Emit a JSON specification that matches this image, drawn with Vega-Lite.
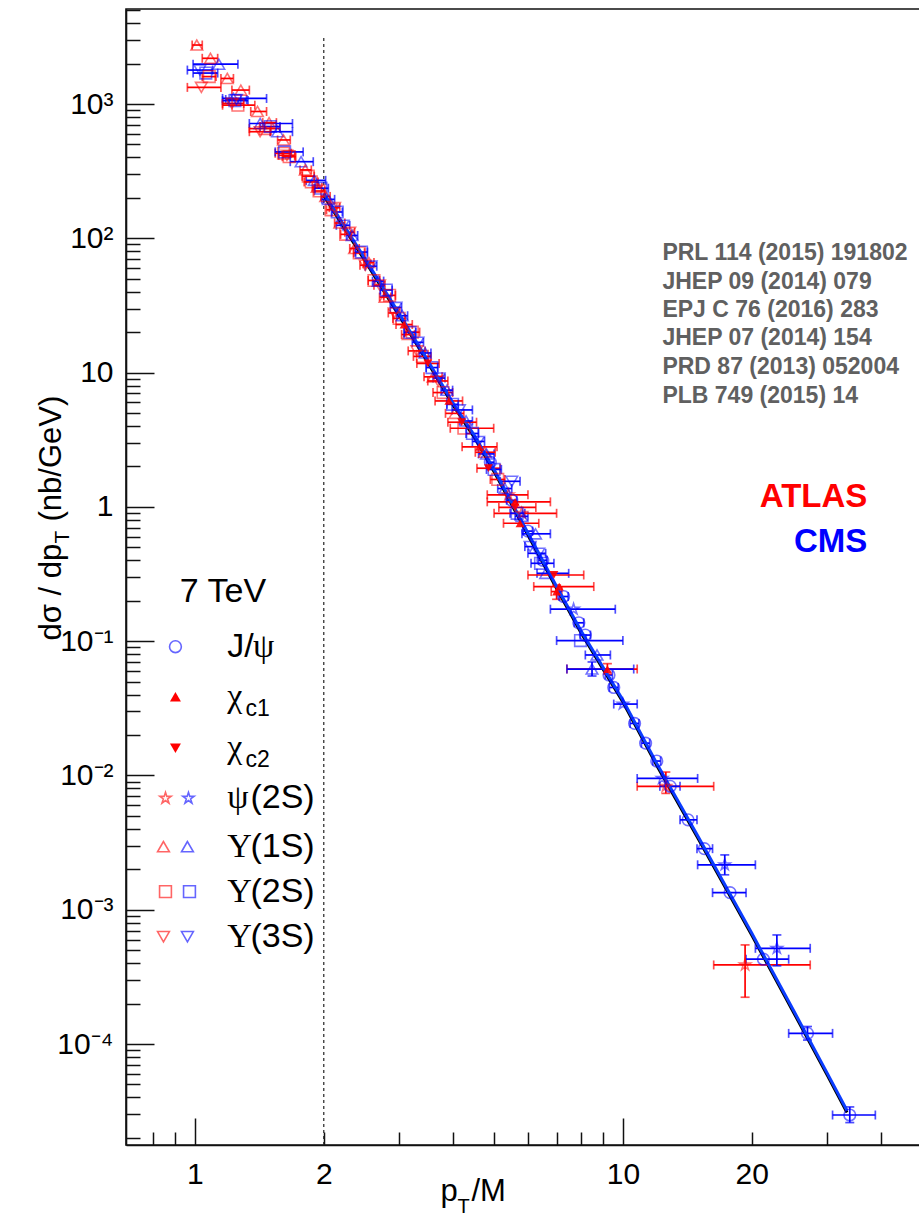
{
  "$schema": "https://vega.github.io/schema/vega-lite/v6.json",
  "width": 796,
  "height": 1136,
  "autosize": {"type": "none"},
  "padding": {"left": 126, "top": 9, "right": 0, "bottom": 85},
  "background": "white",
  "config": {
    "view": {"stroke": "#111111", "strokeWidth": 1.6},
    "axis": {
      "grid": false,
      "domainColor": "#111111",
      "domainWidth": 1.6,
      "tickColor": "#111111",
      "tickWidth": 1.5,
      "labelFont": "Liberation Sans",
      "labelFontSize": 30,
      "labelColor": "#000000",
      "labelOverlap": false,
      "labelFlush": false,
      "labelBound": false,
      "titleFont": "Liberation Sans",
      "titleFontSize": 31,
      "titleFontWeight": "normal",
      "titleColor": "#000000"
    }
  },
  "datasets": {
    "fit": [
      {"f": "CMS", "x": 2.0, "y": 216}, {"f": "CMS", "x": 2.5, "y": 70}, {"f": "CMS", "x": 3.0, "y": 27.5},
      {"f": "CMS", "x": 3.5, "y": 12.3}, {"f": "CMS", "x": 4.0, "y": 6.0}, {"f": "CMS", "x": 4.5, "y": 3.4},
      {"f": "CMS", "x": 5.0, "y": 1.9}, {"f": "CMS", "x": 6.0, "y": 0.64}, {"f": "CMS", "x": 7.0, "y": 0.255},
      {"f": "CMS", "x": 8.0, "y": 0.118}, {"f": "CMS", "x": 10.0, "y": 0.0365}, {"f": "CMS", "x": 12.0, "y": 0.0123},
      {"f": "CMS", "x": 15.0, "y": 0.0035}, {"f": "CMS", "x": 20.0, "y": 0.00067}, {"f": "CMS", "x": 25.0, "y": 0.00018},
      {"f": "CMS", "x": 30.0, "y": 0.000061}, {"f": "CMS", "x": 33.4, "y": 0.000032},
      {"f": "ATLAS", "x": 2.0, "y": 208}, {"f": "ATLAS", "x": 2.5, "y": 67.5}, {"f": "ATLAS", "x": 3.0, "y": 26.5},
      {"f": "ATLAS", "x": 3.5, "y": 11.9}, {"f": "ATLAS", "x": 4.0, "y": 5.8}, {"f": "ATLAS", "x": 4.5, "y": 3.28},
      {"f": "ATLAS", "x": 5.0, "y": 1.83}, {"f": "ATLAS", "x": 6.0, "y": 0.618}, {"f": "ATLAS", "x": 7.0, "y": 0.246},
      {"f": "ATLAS", "x": 8.0, "y": 0.114}, {"f": "ATLAS", "x": 10.0, "y": 0.0352}, {"f": "ATLAS", "x": 12.0, "y": 0.01187},
      {"f": "ATLAS", "x": 15.0, "y": 0.00338}, {"f": "ATLAS", "x": 20.0, "y": 0.000647}, {"f": "ATLAS", "x": 25.0, "y": 0.000174},
      {"f": "ATLAS", "x": 30.0, "y": 0.0000589}, {"f": "ATLAS", "x": 33.4, "y": 0.0000309}
    ],
    "pts": [
      {"e": "ATLAS", "s": "Υ(1S)", "x": 1.01, "y": 2750, "xl": 0.985, "xh": 1.04},
      {"e": "ATLAS", "s": "Υ(1S)", "x": 1.087, "y": 2190, "xl": 1.04, "xh": 1.13},
      {"e": "CMS", "s": "Υ(1S)", "x": 1.137, "y": 1980, "xl": 0.99, "xh": 1.26},
      {"e": "CMS", "s": "Υ(3S)", "x": 1.027, "y": 1790, "xl": 0.96, "xh": 1.10},
      {"e": "CMS", "s": "Υ(2S)", "x": 1.06, "y": 1700, "xl": 0.99, "xh": 1.13},
      {"e": "ATLAS", "s": "Υ(2S)", "x": 1.08, "y": 1600, "xl": 1.04, "xh": 1.12},
      {"e": "ATLAS", "s": "Υ(1S)", "x": 1.19, "y": 1550, "xl": 1.15, "xh": 1.23},
      {"e": "ATLAS", "s": "Υ(3S)", "x": 1.035, "y": 1330, "xl": 0.96, "xh": 1.15},
      {"e": "CMS", "s": "Υ(1S)", "x": 1.23, "y": 1100, "xl": 1.16, "xh": 1.47},
      {"e": "ATLAS", "s": "Υ(1S)", "x": 1.28, "y": 1270, "xl": 1.22, "xh": 1.34},
      {"e": "ATLAS", "s": "Υ(2S)", "x": 1.26, "y": 980, "xl": 1.16, "xh": 1.38},
      {"e": "CMS", "s": "Υ(2S)", "x": 1.24, "y": 1060, "xl": 1.16, "xh": 1.33},
      {"e": "ATLAS", "s": "Υ(3S)", "x": 1.22, "y": 1010, "xl": 1.16, "xh": 1.30},
      {"e": "CMS", "s": "Υ(3S)", "x": 1.25, "y": 1080, "xl": 1.18, "xh": 1.32},
      {"e": "ATLAS", "s": "Υ(1S)", "x": 1.40, "y": 880, "xl": 1.35, "xh": 1.47},
      {"e": "ATLAS", "s": "Υ(2S)", "x": 1.46, "y": 656, "xl": 1.34, "xh": 1.58},
      {"e": "CMS", "s": "Υ(1S)", "x": 1.42, "y": 716, "xl": 1.34, "xh": 1.69},
      {"e": "ATLAS", "s": "Υ(1S)", "x": 1.49, "y": 727, "xl": 1.44, "xh": 1.55},
      {"e": "CMS", "s": "Υ(1S)", "x": 1.56, "y": 622, "xl": 1.50, "xh": 1.69},
      {"e": "ATLAS", "s": "Υ(3S)", "x": 1.42, "y": 622, "xl": 1.34, "xh": 1.50},
      {"e": "ATLAS", "s": "Υ(1S)", "x": 1.61, "y": 540, "xl": 1.56, "xh": 1.67},
      {"e": "CMS", "s": "Υ(2S)", "x": 1.50, "y": 680, "xl": 1.42, "xh": 1.58},
      {"e": "ATLAS", "s": "Υ(2S)", "x": 1.61, "y": 430, "xl": 1.54, "xh": 1.68},
      {"e": "ATLAS", "s": "Υ(2S)", "x": 1.66, "y": 405, "xl": 1.60, "xh": 1.72},
      {"e": "CMS", "s": "Υ(1S)", "x": 1.77, "y": 372, "xl": 1.67, "xh": 1.89},
      {"e": "CMS", "s": "Υ(2S)", "x": 1.62, "y": 440, "xl": 1.54, "xh": 1.79},
      {"e": "ATLAS", "s": "Υ(1S)", "x": 1.81, "y": 323, "xl": 1.76, "xh": 1.87},
      {"e": "ATLAS", "s": "Υ(3S)", "x": 1.64, "y": 415, "xl": 1.57, "xh": 1.71},
      {"e": "ATLAS", "s": "Υ(2S)", "x": 1.87, "y": 263, "xl": 1.80, "xh": 1.94},
      {"e": "ATLAS", "s": "Υ(2S)", "x": 1.84, "y": 290, "xl": 1.78, "xh": 1.90},
      {"e": "CMS", "s": "Υ(1S)", "x": 1.90, "y": 270, "xl": 1.82, "xh": 2.02},
      {"e": "ATLAS", "s": "Υ(1S)", "x": 1.93, "y": 240, "xl": 1.88, "xh": 1.98},
      {"e": "ATLAS", "s": "Υ(2S)", "x": 1.95, "y": 225, "xl": 1.90, "xh": 2.01},
      {"e": "CMS", "s": "Υ(2S)", "x": 1.97, "y": 236, "xl": 1.90, "xh": 2.05},

      {"e": "ATLAS", "s": "Υ(1S)", "x": 2.02, "y": 205, "xl": 1.97, "xh": 2.07},
      {"e": "ATLAS", "s": "Υ(2S)", "x": 2.08, "y": 163, "xl": 2.03, "xh": 2.13},
      {"e": "ATLAS", "s": "Υ(3S)", "x": 2.12, "y": 169, "xl": 2.06, "xh": 2.18},
      {"e": "ATLAS", "s": "Υ(1S)", "x": 2.18, "y": 130, "xl": 2.12, "xh": 2.24},
      {"e": "ATLAS", "s": "Υ(2S)", "x": 2.25, "y": 107, "xl": 2.19, "xh": 2.31},
      {"e": "ATLAS", "s": "Υ(3S)", "x": 2.30, "y": 111, "xl": 2.24, "xh": 2.36},
      {"e": "ATLAS", "s": "Υ(1S)", "x": 2.36, "y": 84, "xl": 2.30, "xh": 2.42},
      {"e": "ATLAS", "s": "Υ(2S)", "x": 2.42, "y": 78, "xl": 2.35, "xh": 2.49},
      {"e": "ATLAS", "s": "Υ(3S)", "x": 2.50, "y": 63, "xl": 2.43, "xh": 2.57},
      {"e": "ATLAS", "s": "Υ(1S)", "x": 2.55, "y": 66, "xl": 2.48, "xh": 2.62},
      {"e": "ATLAS", "s": "Υ(2S)", "x": 2.62, "y": 48.5, "xl": 2.54, "xh": 2.70},
      {"e": "ATLAS", "s": "Υ(3S)", "x": 2.70, "y": 44.8, "xl": 2.62, "xh": 2.78},
      {"e": "ATLAS", "s": "Υ(1S)", "x": 2.78, "y": 36.5, "xl": 2.70, "xh": 2.87},
      {"e": "ATLAS", "s": "Υ(2S)", "x": 2.85, "y": 37.6, "xl": 2.76, "xh": 2.94},
      {"e": "ATLAS", "s": "Υ(3S)", "x": 2.92, "y": 27.8, "xl": 2.83, "xh": 3.01},
      {"e": "ATLAS", "s": "Υ(2S)", "x": 3.00, "y": 25.3, "xl": 2.90, "xh": 3.10},
      {"e": "ATLAS", "s": "χc1", "x": 3.08, "y": 22.8, "xl": 2.95, "xh": 3.22},
      {"e": "ATLAS", "s": "Υ(1S)", "x": 3.15, "y": 19.2, "xl": 3.04, "xh": 3.26},
      {"e": "ATLAS", "s": "Υ(2S)", "x": 3.22, "y": 20.0, "xl": 3.10, "xh": 3.35},
      {"e": "ATLAS", "s": "Υ(3S)", "x": 3.30, "y": 14.5, "xl": 3.15, "xh": 3.45},
      {"e": "ATLAS", "s": "Υ(2S)", "x": 3.40, "y": 13.2, "xl": 3.24, "xh": 3.56},
      {"e": "ATLAS", "s": "χc2", "x": 3.50, "y": 11.7, "xl": 3.30, "xh": 3.72},
      {"e": "ATLAS", "s": "Υ(1S)", "x": 3.60, "y": 9.3, "xl": 3.43, "xh": 3.78},
      {"e": "ATLAS", "s": "Υ(3S)", "x": 3.70, "y": 8.66, "xl": 3.50, "xh": 3.90},
      {"e": "ATLAS", "s": "Υ(2S)", "x": 3.80, "y": 7.1, "xl": 3.60, "xh": 4.00},
      {"e": "ATLAS", "s": "χc1", "x": 3.92, "y": 6.15, "xl": 3.64, "xh": 4.22},
      {"e": "ATLAS", "s": "Υ(1S)", "x": 4.05, "y": 4.97, "xl": 3.85, "xh": 4.25},
      {"e": "ATLAS", "s": "χc2", "x": 4.20, "y": 4.27, "xl": 3.90, "xh": 4.55},
      {"e": "ATLAS", "s": "Υ(2S)", "x": 4.25, "y": 3.85, "xl": 3.95, "xh": 4.99},
      {"e": "ATLAS", "s": "χc1", "x": 4.62, "y": 2.8, "xl": 4.21, "xh": 5.08},
      {"e": "ATLAS", "s": "Υ(1S)", "x": 4.75, "y": 2.55, "xl": 4.52, "xh": 5.03},
      {"e": "ATLAS", "s": "χc2", "x": 4.85, "y": 1.94, "xl": 4.56, "xh": 5.17},
      {"e": "ATLAS", "s": "Υ(2S)", "x": 5.10, "y": 1.6, "xl": 4.90, "xh": 5.30},
      {"e": "ATLAS", "s": "ψ(2S)", "x": 5.40, "y": 1.23, "xl": 4.82, "xh": 6.0},
      {"e": "ATLAS", "s": "χc1", "x": 5.60, "y": 1.09, "xl": 4.82, "xh": 6.77},
      {"e": "ATLAS", "s": "χc2", "x": 5.60, "y": 0.99, "xl": 5.13, "xh": 6.26},
      {"e": "ATLAS", "s": "ψ(2S)", "x": 5.80, "y": 0.896, "xl": 5.0, "xh": 7.0},
      {"e": "ATLAS", "s": "χc1", "x": 5.75, "y": 0.755, "xl": 5.26, "xh": 6.36},
      {"e": "ATLAS", "s": "χc2", "x": 6.90, "y": 0.311, "xl": 6.0, "xh": 8.1},
      {"e": "ATLAS", "s": "χc1", "x": 7.10, "y": 0.255, "xl": 6.19, "xh": 8.55},
      {"e": "ATLAS", "s": "χc1", "x": 7.0, "y": 0.234, "xl": 6.8, "xh": 7.2, "yl": 0.205, "yh": 0.262},
      {"e": "ATLAS", "s": "χc1", "x": 9.2, "y": 0.062, "xl": 7.4, "xh": 10.8, "yl": 0.057, "yh": 0.068},
      {"e": "ATLAS", "s": "ψ(2S)", "x": 12.6, "y": 0.0083, "xl": 10.8, "xh": 16.3, "yl": 0.00735, "yh": 0.0106},
      {"e": "ATLAS", "s": "ψ(2S)", "x": 19.3, "y": 0.000388, "xl": 16.3, "xh": 27.4, "yl": 0.000223, "yh": 0.000547},

      {"e": "CMS", "s": "Υ(1S)", "x": 2.05, "y": 195, "xl": 1.98, "xh": 2.12},
      {"e": "CMS", "s": "Υ(2S)", "x": 2.15, "y": 157, "xl": 2.09, "xh": 2.21},
      {"e": "CMS", "s": "Υ(3S)", "x": 2.22, "y": 125, "xl": 2.14, "xh": 2.30},
      {"e": "CMS", "s": "Υ(1S)", "x": 2.33, "y": 105, "xl": 2.26, "xh": 2.40},
      {"e": "CMS", "s": "Υ(2S)", "x": 2.45, "y": 79, "xl": 2.37, "xh": 2.53},
      {"e": "CMS", "s": "Υ(3S)", "x": 2.58, "y": 62, "xl": 2.50, "xh": 2.66},
      {"e": "CMS", "s": "Υ(1S)", "x": 2.68, "y": 48, "xl": 2.60, "xh": 2.76},
      {"e": "CMS", "s": "Υ(2S)", "x": 2.80, "y": 41.2, "xl": 2.71, "xh": 2.89},
      {"e": "CMS", "s": "Υ(3S)", "x": 2.95, "y": 30.6, "xl": 2.86, "xh": 3.04},
      {"e": "CMS", "s": "Υ(1S)", "x": 3.05, "y": 26.5, "xl": 2.96, "xh": 3.14},
      {"e": "CMS", "s": "Υ(2S)", "x": 3.18, "y": 19.9, "xl": 3.08, "xh": 3.28},
      {"e": "CMS", "s": "Υ(3S)", "x": 3.32, "y": 16.8, "xl": 3.22, "xh": 3.42},
      {"e": "CMS", "s": "Υ(1S)", "x": 3.45, "y": 14.0, "xl": 3.34, "xh": 3.56},
      {"e": "CMS", "s": "Υ(2S)", "x": 3.58, "y": 10.9, "xl": 3.47, "xh": 3.69},
      {"e": "CMS", "s": "Υ(3S)", "x": 3.72, "y": 9.1, "xl": 3.60, "xh": 3.84},
      {"e": "CMS", "s": "Υ(1S)", "x": 3.88, "y": 7.4, "xl": 3.76, "xh": 4.00},
      {"e": "CMS", "s": "Υ(2S)", "x": 4.00, "y": 5.8, "xl": 3.88, "xh": 4.12},
      {"e": "CMS", "s": "Υ(3S)", "x": 4.15, "y": 5.27, "xl": 3.99, "xh": 4.45},
      {"e": "CMS", "s": "Υ(1S)", "x": 4.30, "y": 4.36, "xl": 4.15, "xh": 4.45},
      {"e": "CMS", "s": "Υ(2S)", "x": 4.45, "y": 3.52, "xl": 4.30, "xh": 4.60},
      {"e": "CMS", "s": "Υ(3S)", "x": 4.60, "y": 3.07, "xl": 4.45, "xh": 4.75},
      {"e": "CMS", "s": "Υ(1S)", "x": 4.80, "y": 2.48, "xl": 4.60, "xh": 5.00},
      {"e": "CMS", "s": "J/ψ", "x": 4.90, "y": 2.15, "xl": 4.80, "xh": 5.00},
      {"e": "CMS", "s": "Υ(2S)", "x": 5.00, "y": 1.9, "xl": 4.80, "xh": 5.20},
      {"e": "CMS", "s": "Υ(1S)", "x": 5.30, "y": 1.37, "xl": 5.10, "xh": 5.50},
      {"e": "CMS", "s": "Υ(3S)", "x": 5.50, "y": 1.55, "xl": 5.17, "xh": 5.75},
      {"e": "CMS", "s": "J/ψ", "x": 5.50, "y": 1.12, "xl": 5.35, "xh": 5.65},
      {"e": "CMS", "s": "Υ(2S)", "x": 5.66, "y": 0.896, "xl": 5.45, "xh": 5.90},
      {"e": "CMS", "s": "Υ(1S)", "x": 5.81, "y": 0.85, "xl": 5.60, "xh": 6.00},
      {"e": "CMS", "s": "J/ψ", "x": 6.00, "y": 0.66, "xl": 5.85, "xh": 6.15},
      {"e": "CMS", "s": "Υ(1S)", "x": 6.25, "y": 0.63, "xl": 5.81, "xh": 6.77},
      {"e": "CMS", "s": "Υ(3S)", "x": 6.07, "y": 0.506, "xl": 5.90, "xh": 6.25},
      {"e": "CMS", "s": "Υ(3S)", "x": 6.36, "y": 0.451, "xl": 6.00, "xh": 6.60},
      {"e": "CMS", "s": "J/ψ", "x": 6.50, "y": 0.40, "xl": 6.35, "xh": 6.65},
      {"e": "CMS", "s": "Υ(2S)", "x": 6.42, "y": 0.38, "xl": 6.10, "xh": 6.90},
      {"e": "CMS", "s": "Υ(1S)", "x": 6.60, "y": 0.32, "xl": 6.30, "xh": 7.47},
      {"e": "CMS", "s": "J/ψ", "x": 7.27, "y": 0.215, "xl": 7.10, "xh": 7.45},
      {"e": "CMS", "s": "ψ(2S)", "x": 7.67, "y": 0.173, "xl": 6.77, "xh": 9.6},
      {"e": "CMS", "s": "J/ψ", "x": 7.89, "y": 0.137, "xl": 7.70, "xh": 8.10},
      {"e": "CMS", "s": "J/ψ", "x": 8.17, "y": 0.111, "xl": 7.95, "xh": 8.40},
      {"e": "CMS", "s": "Υ(2S)", "x": 7.96, "y": 0.101, "xl": 7.0, "xh": 10.0},
      {"e": "CMS", "s": "Υ(1S)", "x": 8.70, "y": 0.0789, "xl": 8.17, "xh": 9.35},
      {"e": "CMS", "s": "Υ(1S)", "x": 8.47, "y": 0.062, "xl": 7.4, "xh": 10.6, "yl": 0.055, "yh": 0.07},
      {"e": "CMS", "s": "J/ψ", "x": 9.28, "y": 0.056, "xl": 9.1, "xh": 9.45},
      {"e": "CMS", "s": "J/ψ", "x": 9.52, "y": 0.0452, "xl": 9.3, "xh": 9.75},
      {"e": "CMS", "s": "ψ(2S)", "x": 10.0, "y": 0.034, "xl": 9.52, "xh": 10.8},
      {"e": "CMS", "s": "J/ψ", "x": 10.65, "y": 0.0244, "xl": 10.4, "xh": 10.9},
      {"e": "CMS", "s": "J/ψ", "x": 11.3, "y": 0.0174, "xl": 11.05, "xh": 11.55},
      {"e": "CMS", "s": "J/ψ", "x": 12.0, "y": 0.0128, "xl": 11.75, "xh": 12.25},
      {"e": "CMS", "s": "ψ(2S)", "x": 12.35, "y": 0.0095, "xl": 10.8, "xh": 14.95},
      {"e": "CMS", "s": "J/ψ", "x": 12.9, "y": 0.0083, "xl": 12.2, "xh": 13.6},
      {"e": "CMS", "s": "J/ψ", "x": 14.2, "y": 0.00467, "xl": 13.6, "xh": 14.9},
      {"e": "CMS", "s": "J/ψ", "x": 15.5, "y": 0.00285, "xl": 14.9, "xh": 16.2},
      {"e": "CMS", "s": "ψ(2S)", "x": 17.3, "y": 0.00216, "xl": 14.95, "xh": 20.4, "yl": 0.00182, "yh": 0.00256},
      {"e": "CMS", "s": "J/ψ", "x": 17.8, "y": 0.00134, "xl": 16.2, "xh": 19.4},
      {"e": "CMS", "s": "J/ψ", "x": 21.3, "y": 0.000428, "xl": 19.4, "xh": 24.4},
      {"e": "CMS", "s": "ψ(2S)", "x": 22.9, "y": 0.000516, "xl": 20.4, "xh": 27.4, "yl": 0.000382, "yh": 0.000649},
      {"e": "CMS", "s": "J/ψ", "x": 27.0, "y": 0.00012, "xl": 24.4, "xh": 30.9, "yl": 0.000107, "yh": 0.000135},
      {"e": "CMS", "s": "J/ψ", "x": 33.9, "y": 0.0000296, "xl": 30.9, "xh": 38.9, "yl": 0.000026, "yh": 0.000034}
    ],
    "key": [
      {"e": "CMS", "s": "J/ψ", "x": 0.9003, "y": 0.09099},
      {"e": "ATLAS", "s": "χc1", "x": 0.9003, "y": 0.03861},
      {"e": "ATLAS", "s": "χc2", "x": 0.9003, "y": 0.01594},
      {"e": "ATLAS", "s": "ψ(2S)", "x": 0.8533, "y": 0.006763},
      {"e": "CMS", "s": "ψ(2S)", "x": 0.9656, "y": 0.006763},
      {"e": "ATLAS", "s": "Υ(1S)", "x": 0.8441, "y": 0.00295},
      {"e": "CMS", "s": "Υ(1S)", "x": 0.9603, "y": 0.00295},
      {"e": "ATLAS", "s": "Υ(2S)", "x": 0.8533, "y": 0.001364},
      {"e": "CMS", "s": "Υ(2S)", "x": 0.9709, "y": 0.001364},
      {"e": "ATLAS", "s": "Υ(3S)", "x": 0.8441, "y": 0.00063},
      {"e": "CMS", "s": "Υ(3S)", "x": 0.9603, "y": 0.00063}
    ]
  },
  "resolve": {"axis": {"x": "independent", "y": "independent"}},
  "layer": [
    {
      "data": {"values": [{"x": 2, "y": 3100, "y2": 0.0000177}]},
      "mark": {"type": "rule", "color": "#222222", "strokeWidth": 1.2, "strokeDash": [3, 3]},
      "encoding": {
        "x": {"field": "x", "type": "quantitative",
          "scale": {"type": "log", "domain": [0.69, 50], "nice": false},
          "axis": {"orient": "bottom", "values": [1, 10], "tickSize": -27, "labelPadding": 41,
            "labelExpr": "datum.value == 1 ? '1' : '10'",
            "title": "p", "titleX": 314, "titleY": 55, "titleAlign": "left", "titleBaseline": "alphabetic", "titleAngle": 0}},
        "y": {"field": "y", "type": "quantitative",
          "scale": {"type": "log", "domain": [0.0000177, 5100], "nice": false},
          "axis": {"orient": "left", "values": [0.0001, 0.001, 0.01, 0.1, 1, 10, 100, 1000], "tickSize": -28, "labelPadding": 41,
            "labelExpr": "['10⁻⁴','10⁻³','10⁻²','10⁻¹','1','10','10²','10³'][round(log(datum.value)/LN10)+4]",
            "title": "dσ / dp", "titleX": -66, "titleY": 631, "titleAlign": "left", "titleBaseline": "alphabetic", "titleAngle": 270}},
        "y2": {"field": "y2"}
      }
    },
    {
      "data": {"name": "fit"},
      "transform": [{"filter": "datum.f == 'ATLAS'"}],
      "mark": {"type": "line", "color": "#000000", "strokeWidth": 3},
      "encoding": {
        "x": {"field": "x", "type": "quantitative", "scale": {"type": "log", "domain": [0.69, 50], "nice": false}, "axis": null},
        "y": {"field": "y", "type": "quantitative", "scale": {"type": "log", "domain": [0.0000177, 5100], "nice": false}, "axis": null}
      }
    },
    {
      "data": {"name": "pts"},
      "mark": {"type": "errorbar", "orient": "horizontal", "ticks": true, "size": 9, "thickness": 1.7},
      "encoding": {
        "x": {"field": "xl", "type": "quantitative", "scale": {"type": "log", "domain": [0.69, 50], "nice": false}, "axis": null},
        "x2": {"field": "xh"},
        "y": {"field": "y", "type": "quantitative", "scale": {"type": "log", "domain": [0.0000177, 5100], "nice": false}, "axis": null},
        "color": {"field": "e", "type": "nominal", "scale": {"domain": ["ATLAS", "CMS"], "range": ["#ff0000", "#0000ff"]}, "legend": null}
      }
    },
    {
      "data": {"name": "pts"},
      "transform": [{"filter": "isValid(datum.yl)"}],
      "mark": {"type": "errorbar", "orient": "vertical", "ticks": true, "size": 9, "thickness": 1.7},
      "encoding": {
        "x": {"field": "x", "type": "quantitative", "scale": {"type": "log", "domain": [0.69, 50], "nice": false}, "axis": null},
        "y": {"field": "yl", "type": "quantitative", "scale": {"type": "log", "domain": [0.0000177, 5100], "nice": false}, "axis": null},
        "y2": {"field": "yh"},
        "color": {"field": "e", "type": "nominal", "scale": {"domain": ["ATLAS", "CMS"], "range": ["#ff0000", "#0000ff"]}, "legend": null}
      }
    },
    {
      "data": {"name": "fit"},
      "transform": [{"filter": "datum.f == 'CMS'"}],
      "mark": {"type": "line", "color": "#0b3dff", "strokeWidth": 3},
      "encoding": {
        "x": {"field": "x", "type": "quantitative", "scale": {"type": "log", "domain": [0.69, 50], "nice": false}, "axis": null},
        "y": {"field": "y", "type": "quantitative", "scale": {"type": "log", "domain": [0.0000177, 5100], "nice": false}, "axis": null}
      }
    },
    {
      "data": {"name": "pts"},
      "transform": [{"filter": "datum.s != 'χc1' && datum.s != 'χc2'"}],
      "mark": {"type": "point", "filled": false, "strokeWidth": 1.6, "opacity": 0.55, "size": 135},
      "encoding": {
        "x": {"field": "x", "type": "quantitative", "scale": {"type": "log", "domain": [0.69, 50], "nice": false}, "axis": null},
        "y": {"field": "y", "type": "quantitative", "scale": {"type": "log", "domain": [0.0000177, 5100], "nice": false}, "axis": null},
        "color": {"field": "e", "type": "nominal", "scale": {"domain": ["ATLAS", "CMS"], "range": ["#ff0000", "#0000ff"]}, "legend": null},
        "shape": {"field": "s", "type": "nominal",
          "scale": {"domain": ["J/ψ", "χc1", "χc2", "ψ(2S)", "Υ(1S)", "Υ(2S)", "Υ(3S)"],
            "range": ["circle", "triangle-up", "triangle-down", "M0,-1L0.2245,-0.309L0.951,-0.309L0.363,0.118L0.588,0.809L0,0.382L-0.588,0.809L-0.363,0.118L-0.951,-0.309L-0.2245,-0.309Z", "triangle-up", "square", "triangle-down"]},
          "legend": null}
      }
    },
    {
      "data": {"name": "pts"},
      "transform": [{"filter": "datum.s == 'χc1' || datum.s == 'χc2'"}],
      "mark": {"type": "point", "filled": true, "opacity": 0.9, "size": 80},
      "encoding": {
        "x": {"field": "x", "type": "quantitative", "scale": {"type": "log", "domain": [0.69, 50], "nice": false}, "axis": null},
        "y": {"field": "y", "type": "quantitative", "scale": {"type": "log", "domain": [0.0000177, 5100], "nice": false}, "axis": null},
        "color": {"field": "e", "type": "nominal", "scale": {"domain": ["ATLAS", "CMS"], "range": ["#ff0000", "#0000ff"]}, "legend": null},
        "shape": {"field": "s", "type": "nominal", "legend": null}
      }
    },
    {
      "data": {"name": "key"},
      "transform": [{"filter": "datum.s != 'χc1' && datum.s != 'χc2'"}],
      "mark": {"type": "point", "filled": false, "strokeWidth": 1.6, "opacity": 0.6, "size": 140},
      "encoding": {
        "x": {"field": "x", "type": "quantitative", "scale": {"type": "log", "domain": [0.69, 50], "nice": false},
          "axis": {"orient": "bottom", "values": [0.8, 0.9, 2, 3, 4, 5, 6, 7, 8, 9, 20, 30, 40], "tickSize": -13, "labelPadding": 27, "domain": false,
            "labelExpr": "datum.value == 2 ? '2' : datum.value == 20 ? '20' : ''",
            "title": "T", "titleFontSize": 20, "titleX": 331, "titleY": 67, "titleAlign": "left", "titleBaseline": "alphabetic", "titleAngle": 0}},
        "y": {"field": "y", "type": "quantitative", "scale": {"type": "log", "domain": [0.0000177, 5100], "nice": false},
          "axis": {"orient": "left", "domain": false, "labels": false, "tickSize": -14,
            "values": [0.00002, 0.00003, 0.00004, 0.00005, 0.00006, 0.00007, 0.00008, 0.00009,
              0.0002, 0.0003, 0.0004, 0.0005, 0.0006, 0.0007, 0.0008, 0.0009,
              0.002, 0.003, 0.004, 0.005, 0.006, 0.007, 0.008, 0.009,
              0.02, 0.03, 0.04, 0.05, 0.06, 0.07, 0.08, 0.09,
              0.2, 0.3, 0.4, 0.5, 0.6, 0.7, 0.8, 0.9,
              2, 3, 4, 5, 6, 7, 8, 9,
              20, 30, 40, 50, 60, 70, 80, 90,
              200, 300, 400, 500, 600, 700, 800, 900,
              2000, 3000, 4000, 5000],
            "title": "T", "titleFontSize": 21, "titleX": -58, "titleY": 534, "titleAlign": "left", "titleBaseline": "alphabetic", "titleAngle": 270}},
        "color": {"field": "e", "type": "nominal", "legend": null},
        "shape": {"field": "s", "type": "nominal", "legend": null}
      }
    },
    {
      "data": {"name": "key"},
      "transform": [{"filter": "datum.s == 'χc1' || datum.s == 'χc2'"}],
      "mark": {"type": "point", "filled": true, "opacity": 1, "size": 120},
      "encoding": {
        "x": {"field": "x", "type": "quantitative", "scale": {"type": "log", "domain": [0.69, 50], "nice": false}, "axis": null},
        "y": {"field": "y", "type": "quantitative", "scale": {"type": "log", "domain": [0.0000177, 5100], "nice": false}, "axis": null},
        "color": {"field": "e", "type": "nominal", "legend": null},
        "shape": {"field": "s", "type": "nominal", "legend": null}
      }
    },
    {
      "data": {"values": [
        {"x": 1.189, "y": 0.09099, "t": "J/"},
        {"x": 1.348, "y": 0.006763, "t": "(2S)"},
        {"x": 1.348, "y": 0.00295, "t": "(1S)"},
        {"x": 1.348, "y": 0.001364, "t": "(2S)"},
        {"x": 1.348, "y": 0.00063, "t": "(3S)"}
      ]},
      "mark": {"type": "text", "font": "Liberation Sans", "fontSize": 34, "align": "left", "baseline": "middle", "color": "#000000"},
      "encoding": {
        "x": {"field": "x", "type": "quantitative", "scale": {"type": "log", "domain": [0.69, 50], "nice": false},
          "axis": {"orient": "bottom", "ticks": false, "labels": false, "domain": false,
            "title": "/M", "titleX": 345, "titleY": 55, "titleAlign": "left", "titleBaseline": "alphabetic", "titleAngle": 0}},
        "y": {"field": "y", "type": "quantitative", "scale": {"type": "log", "domain": [0.0000177, 5100], "nice": false},
          "axis": {"orient": "left", "ticks": false, "labels": false, "domain": false,
            "title": "(nb/GeV)", "titleX": -66, "titleY": 512, "titleAlign": "left", "titleBaseline": "alphabetic", "titleAngle": 270}},
        "text": {"field": "t"}
      }
    },
    {
      "data": {"values": [
        {"x": 1.366, "y": 0.09099, "t": "ψ"},
        {"x": 1.189, "y": 0.03861, "t": "χ"},
        {"x": 1.189, "y": 0.01594, "t": "χ"},
        {"x": 1.189, "y": 0.006763, "t": "ψ"},
        {"x": 1.189, "y": 0.00295, "t": "Υ"},
        {"x": 1.189, "y": 0.001364, "t": "Υ"},
        {"x": 1.189, "y": 0.00063, "t": "Υ"}
      ]},
      "mark": {"type": "text", "font": "Liberation Serif", "fontSize": 34, "align": "left", "baseline": "middle", "color": "#000000"},
      "encoding": {
        "x": {"field": "x", "type": "quantitative", "scale": {"type": "log", "domain": [0.69, 50], "nice": false}, "axis": null},
        "y": {"field": "y", "type": "quantitative", "scale": {"type": "log", "domain": [0.0000177, 5100], "nice": false}, "axis": null},
        "text": {"field": "t"}
      }
    },
    {
      "data": {"values": [
        {"x": 1.312, "y": 0.03144, "t": "c1"},
        {"x": 1.312, "y": 0.01298, "t": "c2"}
      ]},
      "mark": {"type": "text", "font": "Liberation Sans", "fontSize": 23, "align": "left", "baseline": "middle", "color": "#000000"},
      "encoding": {
        "x": {"field": "x", "type": "quantitative", "scale": {"type": "log", "domain": [0.69, 50], "nice": false}, "axis": null},
        "y": {"field": "y", "type": "quantitative", "scale": {"type": "log", "domain": [0.0000177, 5100], "nice": false}, "axis": null},
        "text": {"field": "t"}
      }
    },
    {
      "data": {"values": [{"x": 1.1627, "y": 0.2337, "t": "7 TeV"}]},
      "mark": {"type": "text", "font": "Liberation Sans", "fontSize": 34, "align": "center", "baseline": "middle", "color": "#000000"},
      "encoding": {
        "x": {"field": "x", "type": "quantitative", "scale": {"type": "log", "domain": [0.69, 50], "nice": false}, "axis": null},
        "y": {"field": "y", "type": "quantitative", "scale": {"type": "log", "domain": [0.0000177, 5100], "nice": false}, "axis": null},
        "text": {"field": "t"}
      }
    },
    {
      "data": {"values": [
        {"x": 12.37, "y": 77.7, "t": "PRL 114 (2015) 191802"},
        {"x": 12.37, "y": 47.3, "t": "JHEP 09 (2014) 079"},
        {"x": 12.37, "y": 29.25, "t": "EPJ C 76 (2016) 283"},
        {"x": 12.37, "y": 18.1, "t": "JHEP 07 (2014) 154"},
        {"x": 12.37, "y": 11.0, "t": "PRD 87 (2013) 052004"},
        {"x": 12.37, "y": 6.7, "t": "PLB 749 (2015) 14"}
      ]},
      "mark": {"type": "text", "font": "Liberation Sans", "fontWeight": "bold", "fontSize": 23, "align": "left", "baseline": "middle", "color": "#606060"},
      "encoding": {
        "x": {"field": "x", "type": "quantitative", "scale": {"type": "log", "domain": [0.69, 50], "nice": false}, "axis": null},
        "y": {"field": "y", "type": "quantitative", "scale": {"type": "log", "domain": [0.0000177, 5100], "nice": false}, "axis": null},
        "text": {"field": "t"}
      }
    },
    {
      "data": {"values": [
        {"x": 37.26, "y": 1.186, "e": "ATLAS"},
        {"x": 37.26, "y": 0.551, "e": "CMS"}
      ]},
      "mark": {"type": "text", "font": "Liberation Sans", "fontWeight": "bold", "fontSize": 33, "align": "right", "baseline": "middle"},
      "encoding": {
        "x": {"field": "x", "type": "quantitative", "scale": {"type": "log", "domain": [0.69, 50], "nice": false}, "axis": null},
        "y": {"field": "y", "type": "quantitative", "scale": {"type": "log", "domain": [0.0000177, 5100], "nice": false}, "axis": null},
        "color": {"field": "e", "type": "nominal", "legend": null},
        "text": {"field": "e"}
      }
    }
  ]
}
